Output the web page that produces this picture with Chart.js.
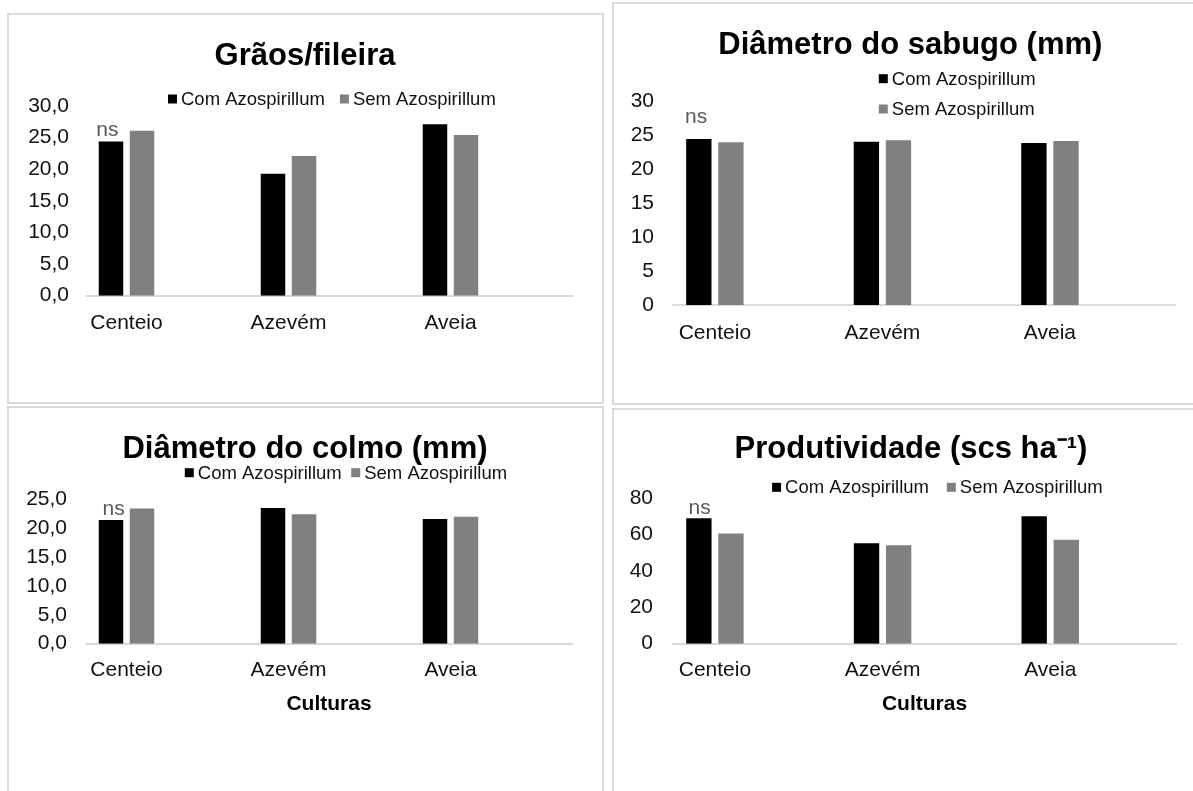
<!DOCTYPE html>
<html lang="pt">
<head>
<meta charset="utf-8">
<title>Milho: componentes de rendimento com e sem Azospirillum</title>
<script src="https://cdn.jsdelivr.net/npm/chart.js@4.4.1/dist/chart.umd.min.js"></script>
<style>
  html, body { margin: 0; padding: 0; background: #ffffff; width: 1193px; height: 791px; overflow: hidden; }
  .panel { position: absolute; border: 2px solid #d9d9d9; box-sizing: border-box; background: #ffffff; }
  canvas { position: absolute; }
</style>
</head>
<body>
<div class="panel" style="left:7px;top:13px;width:597px;height:391px"></div>
<div class="panel" style="left:612px;top:2px;width:600px;height:403px"></div>
<div class="panel" style="left:7px;top:406px;width:597px;height:400px"></div>
<div class="panel" style="left:612px;top:408px;width:600px;height:400px"></div>

<canvas id="graos"  width="591" height="385" style="left:10px;top:16px"></canvas>
<canvas id="sabugo" width="578" height="398" style="left:615px;top:5px"></canvas>
<canvas id="colmo"  width="591" height="382" style="left:10px;top:409px"></canvas>
<canvas id="prod"   width="578" height="380" style="left:615px;top:411px"></canvas>

<script>
// Cover crops preceding the maize, and the two inoculation treatments
const categories = ['Centeio', 'Azevém', 'Aveia'];
const seriesNames = ['Com Azospirillum', 'Sem Azospirillum'];

// Grãos por fileira
const graosCom = [24.4, 19.3, 27.1];
const graosSem = [26.1, 22.1, 25.4];
const graosTicks = ['0,0', '5,0', '10,0', '15,0', '20,0', '25,0', '30,0'];

// Diâmetro do sabugo (mm)
const sabugoCom = [24.5, 24.1, 23.9];
const sabugoSem = [24.0, 24.3, 24.2];
const sabugoTicks = ['0', '5', '10', '15', '20', '25', '30'];

// Diâmetro do colmo (mm)
const colmoCom = [21.4, 23.5, 21.6];
const colmoSem = [23.4, 22.4, 22.0];
const colmoTicks = ['0,0', '5,0', '10,0', '15,0', '20,0', '25,0'];

// Produtividade (scs ha-1)
const prodCom = [69.0, 55.2, 70.1];
const prodSem = [60.7, 54.1, 57.2];
const prodTicks = ['0', '20', '40', '60', '80'];

const significance = 'ns';
const xAxisName = 'Culturas';

const FAMILY = '"Liberation Sans", Arial, Helvetica, sans-serif';
const seriesColors = ['#000000', '#808080'];

// Legend swatches and the "ns" note drawn on top of each chart
const panelMarks = {
  id: 'panelMarks',
  afterLayout(chart) {
    // let the value labels use the free space left of the axis box
    chart.scales.y.left = 0;
  },
  afterDraw(chart, args, opts) {
    const ctx = chart.ctx;
    ctx.save();
    ctx.font = '18.5px ' + FAMILY;
    ctx.textBaseline = 'middle';
    ctx.textAlign = 'left';
    let x = opts.legend.x;
    let y = opts.legend.y;
    chart.data.datasets.forEach(ds => {
      ctx.fillStyle = ds.backgroundColor;
      ctx.fillRect(x, y - 4.5, 9, 9);
      ctx.fillStyle = '#111111';
      ctx.fillText(ds.label, x + 13, y + 1);
      if (opts.legend.rowStep) {
        y += opts.legend.rowStep;
      } else {
        x += 13 + ctx.measureText(ds.label).width + opts.legend.gap;
      }
    });
    const bar = chart.getDatasetMeta(0).data[0];
    ctx.font = '21px ' + FAMILY;
    ctx.fillStyle = '#595959';
    ctx.textAlign = 'center';
    ctx.fillText(significance, bar.x + opts.ns.dx, bar.y - opts.ns.dy);
    ctx.restore();
  }
};

function buildChart(id, spec) {
  const tickFont = { family: FAMILY, size: 21 };
  return new Chart(document.getElementById(id), {
    type: 'bar',
    data: {
      datasets: [
        { label: seriesNames[0], data: categories.map((c, i) => ({ x: i, y: spec.com[i] })), backgroundColor: seriesColors[0] },
        { label: seriesNames[1], data: categories.map((c, i) => ({ x: i, y: spec.sem[i] })), backgroundColor: seriesColors[1] }
      ]
    },
    options: {
      responsive: false,
      animation: false,
      events: [],
      datasets: { bar: { categoryPercentage: 0.383, barPercentage: 0.79, borderWidth: 0 } },
      layout: { padding: spec.pad },
      plugins: {
        legend: { display: false },
        tooltip: { enabled: false },
        title: {
          display: true,
          text: spec.title,
          color: '#000000',
          font: { family: FAMILY, size: 31, weight: 'bold' },
          padding: spec.titlePad
        },
        panelMarks: { legend: spec.legend, ns: spec.ns }
      },
      scales: {
        x: {
          type: 'linear',
          min: -0.25,
          max: 2.75,
          offset: false,
          grid: { display: false, drawTicks: false, offset: false },
          border: { display: true, color: '#d9d9d9', width: 2 },
          afterBuildTicks: scale => { scale.ticks = categories.map((c, i) => ({ value: i })); },
          ticks: {
            callback: v => categories[v],
            font: tickFont,
            color: '#111111',
            padding: spec.xPad,
            maxRotation: 0,
            autoSkip: false
          },
          title: {
            display: !!spec.xTitle,
            text: xAxisName,
            color: '#000000',
            font: { family: FAMILY, size: 21, weight: 'bold' },
            padding: { top: -4.8, bottom: 0 }
          }
        },
        y: {
          min: 0,
          max: spec.max,
          grid: { display: false, drawTicks: false },
          border: { display: false },
          afterFit: scale => { scale.width = spec.yWidth; },
          ticks: {
            stepSize: spec.step,
            callback: (v, i) => spec.tickLabels[i],
            font: tickFont,
            color: '#111111',
            padding: spec.yPad
          }
        }
      }
    },
    plugins: [panelMarks]
  });
}

buildChart('graos', {
  title: 'Grãos/fileira',
  com: graosCom, sem: graosSem, tickLabels: graosTicks, max: 30, step: 5,
  pad: { left: 28, right: 29, top: 0, bottom: 49.5 },
  titlePad: { top: 21.4, bottom: 31.4 },
  yWidth: 48, yPad: 17, xPad: 15.3, xTitle: false,
  legend: { x: 158, y: 83, gap: 15 },
  ns: { dx: -3.6, dy: 11.5 }
});

buildChart('sabugo', {
  title: 'Diâmetro do sabugo (mm)',
  com: sabugoCom, sem: sabugoSem, tickLabels: sabugoTicks, max: 30, step: 5,
  pad: { left: 30, right: 17.4, top: 0, bottom: 41.4 },
  titlePad: { top: 21.4, bottom: 38.1 },
  yWidth: 28, yPad: 19, xPad: 15.7, xTitle: false,
  legend: { x: 263.8, y: 73.7, rowStep: 30.3 },
  ns: { dx: -2.7, dy: 22 }
});

buildChart('colmo', {
  title: 'Diâmetro do colmo (mm)',
  com: colmoCom, sem: colmoSem, tickLabels: colmoTicks, max: 25, step: 5,
  pad: { left: 28, right: 29, top: 0, bottom: 74.5 },
  titlePad: { top: 21.8, bottom: 31.3 },
  yWidth: 48, yPad: 19, xPad: 13.6, xTitle: true,
  legend: { x: 174.8, y: 63.7, gap: 9.5 },
  ns: { dx: 2.6, dy: 11 }
});

buildChart('prod', {
  title: 'Produtividade (scs ha⁻¹)',
  com: prodCom, sem: prodSem, tickLabels: prodTicks, max: 80, step: 20,
  pad: { left: 31, right: 17, top: 0, bottom: 74.5 },
  titlePad: { top: 19.8, bottom: 30.3 },
  yWidth: 27, yPad: 20, xPad: 13.6, xTitle: true,
  legend: { x: 157.1, y: 76.3, gap: 17.8 },
  ns: { dx: 0.7, dy: 9.6 }
});
</script>
</body>
</html>
